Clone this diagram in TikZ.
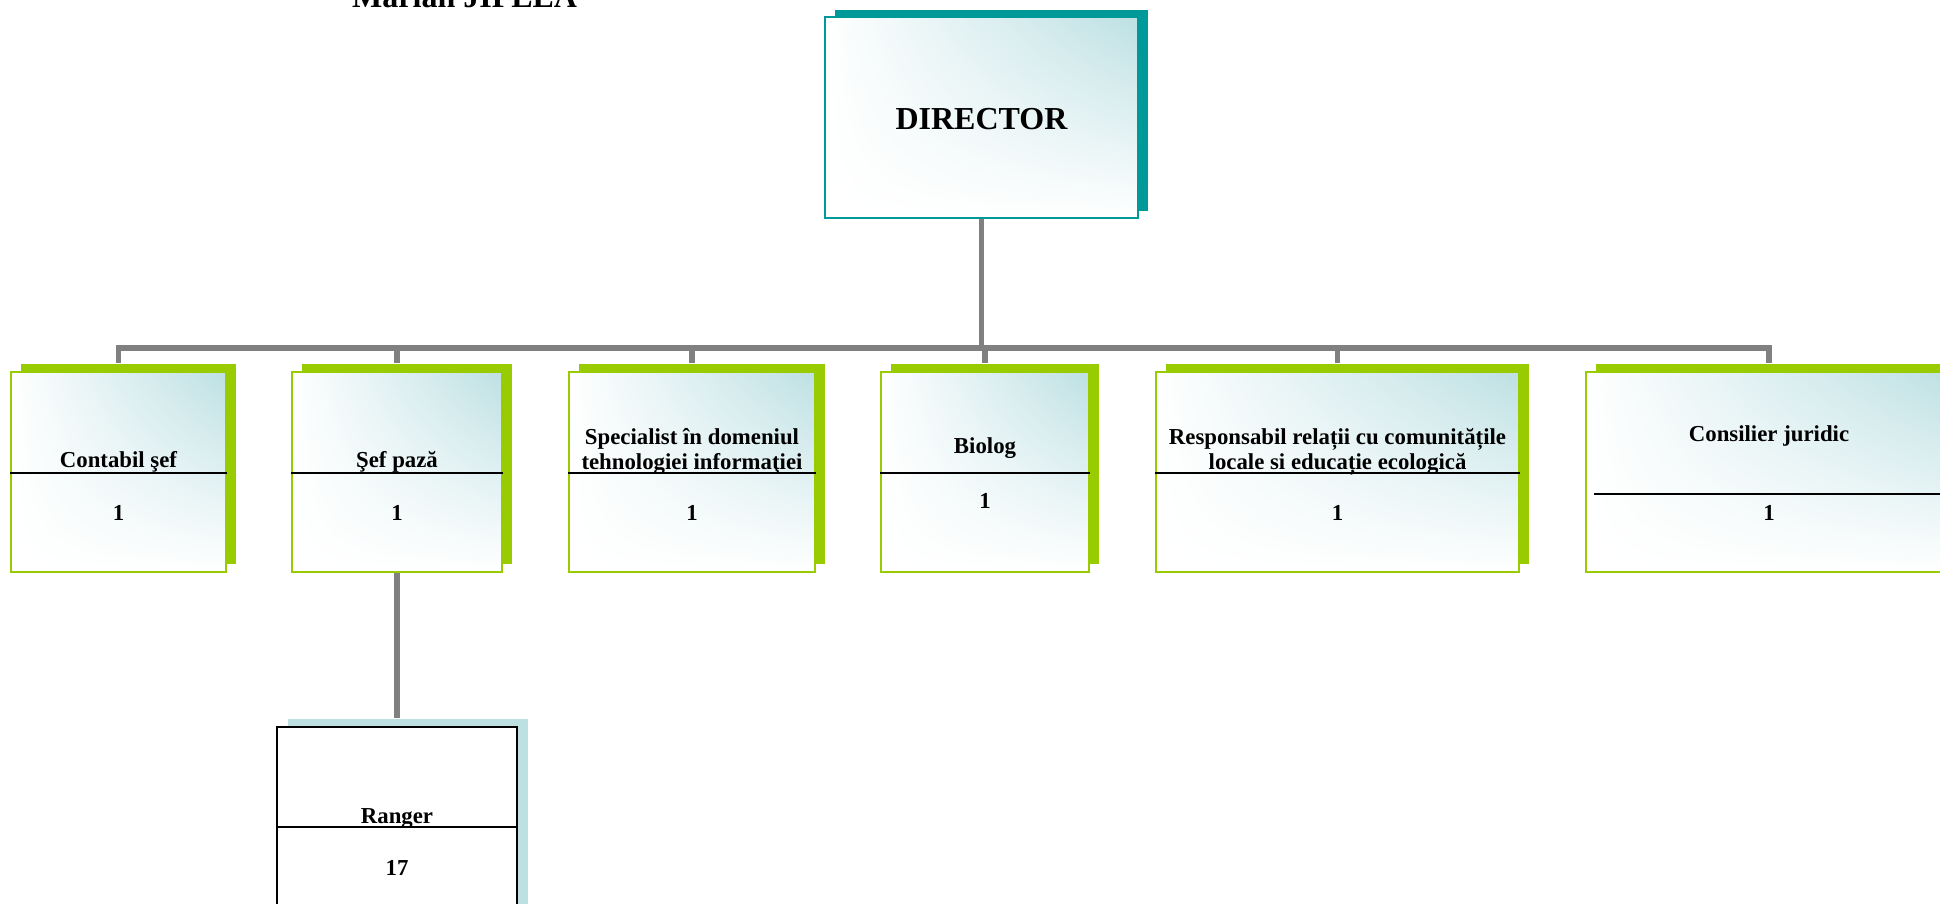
\documentclass[tikz,border=0pt]{standalone}
\usepackage{fontspec}
\setmainfont{Liberation Serif}
\usetikzlibrary{shadows,shadings}

\definecolor{darkteal}{RGB}{0,153,153}
\definecolor{leafgreen}{RGB}{153,204,0}
\definecolor{paleblue}{RGB}{189,224,227}
\definecolor{wiregray}{RGB}{128,128,128}

\begin{document}
\begin{tikzpicture}[x=1pt,y=-1pt,
    card/.style={shade, upper right=paleblue, upper left=white,
      lower left=white, lower right=white, inner sep=0pt,
      minimum height=200pt, line width=1.8pt},
    post/.style={card, draw=leafgreen,
      general shadow={fill=leafgreen, shadow xshift=10pt, shadow yshift=8pt}},
    wire/.style={draw=wiregray, line width=5.5pt},
    rule/.style={draw=black, line width=1.8pt},
    lbl/.style={font=\fontsize{22.8}{25}\selectfont\bfseries, anchor=base,
      inner sep=0pt, align=center},
    big/.style={font=\fontsize{32}{36}\selectfont\bfseries, inner sep=0pt}]
    \useasboundingbox (0,0) rectangle (1940,903);
    \clip (0,0) rectangle (1940,903);

    % name, cut by the top of the page
    \node[big, anchor=base west] (author) at (352,7) {Marian JIPLEA};

    \node[card, draw=darkteal, minimum width=313pt, minimum height=201pt,
      general shadow={fill=darkteal, shadow xshift=10pt, shadow yshift=7pt}]
      (dir) at (981.5,117.5) {};
    \node[big, anchor=base] (dirT) at (981.5,129) {DIRECTOR};

    \node[post, minimum width=215pt] (cont) at (118.5,472) {};
    \node[post, minimum width=210pt] (sef) at (397,472) {};
    \node[post, minimum width=246pt] (spec) at (692,472) {};
    \node[post, minimum width=208pt] (bio) at (985,472) {};
    \node[post, minimum width=363pt] (resp) at (1337.5,472) {};
    \node[post, minimum width=366pt] (cons) at (1769,472) {};
    \node[draw=black, fill=white, line width=1.8pt, inner sep=0pt,
      minimum width=240pt, minimum height=200pt,
      general shadow={fill=paleblue, shadow xshift=11pt, shadow yshift=8pt}]
      (rang) at (397,827) {};

    % tree lines
    \foreach \p in {cont,sef,spec,bio,resp,cons}
      \draw[wire] (dir.south) |- (0,348 -| \p.north) -- ([yshift=8pt]\p.north);
    \draw[wire] (sef.south) -- ([yshift=8pt]rang.north);

    \foreach \p in {cont,sef,spec,bio,resp}
      \draw[rule] (\p.west |- 0,473) -- (\p.east |- 0,473);
    \draw[rule] (rang.west) -- (rang.east);
    \draw[rule, line width=1.2pt] (1594,494) -- (cons.east |- 0,494);

    \node[lbl] (contT) at (118.5,467) {Contabil şef};
    \node[lbl] (contN) at (118.5,520) {1};
    \node[lbl] (sefT) at (397,467) {Şef pază};
    \node[lbl] (sefN) at (397,520) {1};
    \node[lbl] (specT) at (692,469) {Specialist în domeniul\\tehnologiei informaţiei};
    \node[lbl] (specN) at (692,520) {1};
    \node[lbl] (bioT) at (985,453) {Biolog};
    \node[lbl] (bioN) at (985,508) {1};
    \node[lbl] (respT) at (1337.5,469) {Responsabil relații cu comunitățile\\locale si educație ecologică};
    \node[lbl] (respN) at (1337.5,520) {1};
    \node[lbl] (consT) at (1769,441) {Consilier juridic};
    \node[lbl] (consN) at (1769,520) {1};
    \node[lbl] (rangT) at (397,823) {Ranger};
    \node[lbl] (rangN) at (397,875) {17};
\end{tikzpicture}
\end{document}
